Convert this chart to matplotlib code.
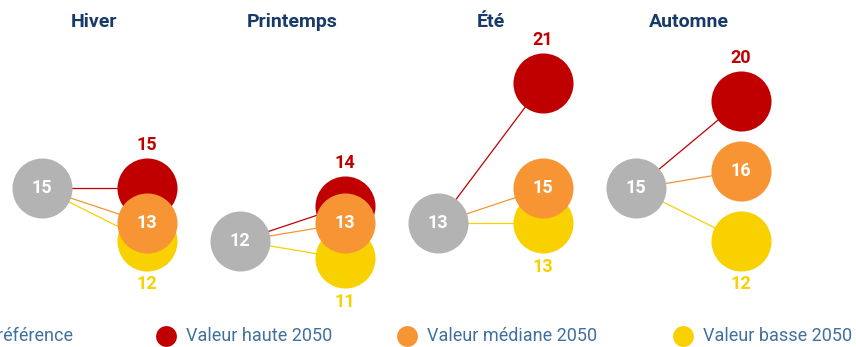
import matplotlib.pyplot as plt
from matplotlib.transforms import blended_transform_factory

# seasonal values: reference and 2050 projections
saisons = ["Hiver", "Printemps", "Été", "Automne"]
reference = [15, 12, 13, 15]
haute_2050 = [15, 14, 21, 20]
mediane_2050 = [13, 13, 15, 16]
basse_2050 = [12, 11, 13, 12]

GRIS = "#b3b3b3"
ROUGE = "#c00000"
ORANGE = "#f79433"
JAUNE = "#f9d100"
BLEU_TITRE = "#173a68"
BLEU_LEGENDE = "#41709f"

plt.rcParams["font.family"] = ["Roboto", "DejaVu Sans"]

fig = plt.figure(figsize=(8.56, 3.47), dpi=100)
ax = fig.add_axes([0, 0, 1, 1])
ax.set_xlim(-0.212, 4.111)
ax.set_ylim(5.94, 25.77)
ax.axis("off")

DX = 0.53  # horizontal gap between reference and 2050 circles
S = 1870   # circle size (points^2)

tr = blended_transform_factory(ax.transData, ax.transAxes)

for i, nom in enumerate(saisons):
    x0 = i
    x1 = i + DX
    ref = reference[i]
    ax.text((x0 + x1) / 2, 0.937, nom, transform=tr, ha="center", va="center",
            fontsize=14, fontweight="bold", color=BLEU_TITRE)

    for val, col in [(haute_2050[i], ROUGE), (mediane_2050[i], ORANGE), (basse_2050[i], JAUNE)]:
        ax.plot([x0, x1], [ref, val], color=col, lw=0.9, zorder=1)

    ax.scatter([x0], [ref], s=S, color=GRIS, zorder=3, linewidths=0)
    ax.text(x0, ref, str(ref), ha="center", va="center", color="white",
            fontsize=13, fontweight="bold", zorder=6)

    ax.scatter([x1], [basse_2050[i]], s=S, color=JAUNE, zorder=3, linewidths=0)
    ax.scatter([x1], [haute_2050[i]], s=S, color=ROUGE, zorder=4, linewidths=0)
    ax.scatter([x1], [mediane_2050[i]], s=S, color=ORANGE, zorder=5, linewidths=0)
    ax.text(x1, mediane_2050[i], str(mediane_2050[i]), ha="center", va="center",
            color="white", fontsize=13, fontweight="bold", zorder=6)

    ax.annotate(str(haute_2050[i]), (x1, haute_2050[i]), xytext=(0, 31),
                textcoords="offset points", ha="center", va="center",
                color=ROUGE, fontsize=13, fontweight="bold")
    ax.annotate(str(basse_2050[i]), (x1, basse_2050[i]), xytext=(0, -31),
                textcoords="offset points", ha="center", va="center",
                color=JAUNE, fontsize=13, fontweight="bold")

# legend row along the bottom; the first entry runs off the left edge
W, H = 856.0, 347.0
ly = 1 - 336 / H
legende = [("Valeur haute 2050", ROUGE, 166),
           ("Valeur médiane 2050", ORANGE, 407), ("Valeur basse 2050", JAUNE, 683)]
for texte, col, xm in legende:
    fig.add_artist(plt.Line2D([xm / W], [ly], marker="o", markersize=15,
                              color=col, markeredgewidth=0, transform=fig.transFigure))
    fig.text((xm + 20) / W, ly, texte, ha="left", va="center",
             fontsize=13, color=BLEU_LEGENDE)
fig.text(73 / W, ly, "Valeur de référence", ha="right", va="center",
         fontsize=13, color=BLEU_LEGENDE)

fig.savefig("out.png", dpi=100)
